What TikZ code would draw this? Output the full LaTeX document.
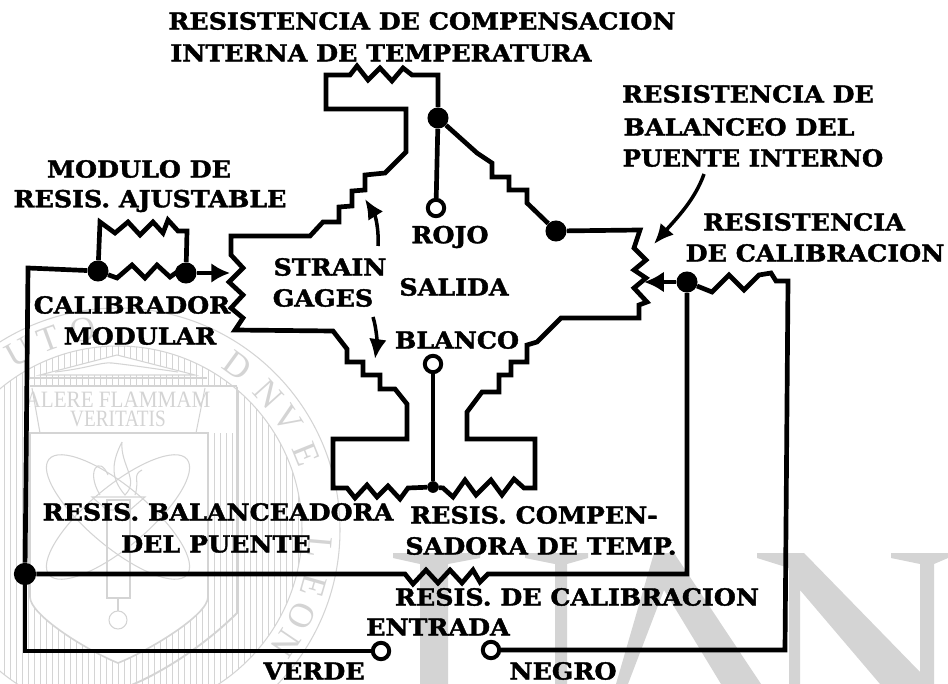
\documentclass[tikz,border=0pt]{standalone}
\usepackage{fontspec}
\setmainfont{DejaVu Serif}[BoldFeatures={FakeBold=1.6}]
\newfontfamily\sealfont{Liberation Serif}
\usetikzlibrary{arrows.meta,shapes.geometric}
\definecolor{markgray}{gray}{0.83}
\tikzset{
	wire/.style={line width=4pt, line join=miter, color=black},
	junction/.style={circle, fill=black, inner sep=0pt, minimum size=18pt},
	terminal/.style={circle, draw=black, fill=white, line width=3.4pt, inner sep=0pt, minimum size=14pt},
	lbl/.style={inner sep=0pt, xscale=1.08, font=\fontsize{20}{20}\selectfont\bfseries, color=black},
	pointer/.style={line width=3pt, -{Latex[length=17pt,width=15pt]}},
	sealline/.style={color=markgray, line width=0.9pt},
	bigmark/.style={fill=markgray, draw=none},
	sealtxt/.style={inner sep=0pt, color=markgray, font=\sealfont\fontsize{30}{30}\selectfont},
}
\begin{document}
\begin{tikzpicture}[x=0.03cm, y=-0.03cm]
		%%%%% START %%%%%
		\useasboundingbox (0, 0) rectangle (948, 684);
		\clip (0, 0) rectangle (948, 684);
		\fill[white] (0, 0) rectangle (948, 684);
		
		% big letters behind
		\fill[bigmark] (393, 553) -- (480, 553) -- (480, 558) -- (448, 564) -- (448, 684) -- (420, 684) -- (420, 564) -- (393, 558) -- cycle;
		\fill[bigmark] (525, 553) -- (588, 553) -- (588, 558) -- (567, 564) -- (567, 684) -- (555, 684) -- (555, 564) -- (525, 558) -- cycle;
		\fill[bigmark] (654, 553) -- (674, 553) -- (761, 684) -- (721, 684) -- (664, 590) -- (628, 684) -- (616, 684) -- cycle;
		\fill[bigmark] (757, 553) -- (804, 553) -- (920, 672) -- (920, 564) -- (891, 558) -- (891, 553) -- (948, 553) -- (948, 558) -- (934, 564) -- (934, 684) -- (880, 684) -- (800, 590) -- (800, 684) -- (789, 684) -- (789, 568) -- (757, 558) -- cycle;
		
		% seal behind
		\begin{scope}
			\clip (118, 530) circle (184);
			\foreach \hx in {4, 10, ..., 300} {
				\draw[markgray, line width=0.7pt] (\hx, 340) -- (\hx, 720);
			}
		\end{scope}
		\fill[white] (30, 387) rectangle (237, 433);
		\fill[white] (30, 433) -- (208, 433) -- (208, 597) .. controls (208, 615) and (150, 650) .. (118, 663) .. controls (86, 650) and (30, 615) .. (30, 597) -- cycle;
		\draw[sealline, line width=1.6pt] (237, 387) -- (237, 613) .. controls (200, 650) and (150, 680) .. (118, 690);
		\draw[sealline, line width=1.4pt] (30, 433) -- (208, 433) -- (208, 597) .. controls (208, 615) and (150, 650) .. (118, 663) .. controls (86, 650) and (30, 615) .. (30, 597) -- cycle;
		\draw[sealline] (118, 530) circle (222);
		\draw[sealline] (118, 530) circle (184);
		
		\fill[white] (40, 375) -- (117, 355) -- (195, 375) -- cycle;
		\draw[sealline] (40, 375) -- (117, 355) -- (195, 375) -- cycle;
		\draw[sealline] (55, 372) .. controls (90, 368) and (100, 362) .. (112, 363) .. controls (130, 365) and (150, 368) .. (178, 372);
		\draw[sealline, line width=1.4pt] (30, 378) -- (207, 378);
		\draw[sealline, line width=1.4pt] (30, 386) -- (237, 386);
		\draw[sealline] (32, 388) -- (40, 433);
		\draw[sealline] (205, 388) -- (196, 433);
		\node[sealtxt, font=\sealfont\fontsize{20}{20}\selectfont, xscale=0.9] (alere) at (118, 400) {ALERE FLAMMAM};
		\node[sealtxt, font=\sealfont\fontsize{20}{20}\selectfont, xscale=0.82] (veritatis) at (118, 419) {VERITATIS};
		
		\draw[sealline] (118, 517) ellipse [x radius=90, y radius=30, rotate=40];
		\draw[sealline] (118, 517) ellipse [x radius=90, y radius=30, rotate=-40];
		\draw[sealline] (107, 500) rectangle (130, 598);
		\draw[sealline] (118, 620) circle (9);
		\draw[sealline] (118, 598) -- (118, 611);
		\draw[sealline] (122, 442) .. controls (110, 465) and (112, 480) .. (125, 495) .. controls (140, 480) and (120, 465) .. (122, 442);
		\draw[sealline] (100, 495) .. controls (85, 470) and (100, 455) .. (108, 475);
		\draw[sealline] (135, 495) .. controls (140, 480) and (132, 475) .. (142, 470);
		\draw[sealline] (92, 497) -- (145, 497) -- (130, 510) -- (107, 510) -- cycle;
		
		\foreach \sealang/\sealch in {119/U, 110/T, 100/O, 54/D, 42/N, 33/V, 22/E, -5/L, -16/E, -25/O, -34/N} {
			\node[sealtxt, rotate=\sealang-90] at ({118+203*cos(\sealang)}, {530-203*sin(\sealang)}) {\sealch};
		}
		
		%%%%% circuit points %%%%%
		\node[junction] (topj) at (438, 118) {};
		\node[junction] (rightj) at (556, 231) {};
		\node[junction] (leftj) at (98, 271) {};
		\node[junction] (midj) at (186, 273) {};
		\node[junction] (calj) at (687, 282) {};
		\node[junction, minimum size=19pt] (outerj) at (25, 574) {};
		\node[junction, minimum size=10pt] (botj) at (433, 487) {};
		
		\node[terminal] (rojo) at (436, 208) {};
		\node[terminal] (blanco) at (433, 364) {};
		\node[terminal] (verde) at (381, 651) {};
		\node[terminal] (negro) at (491, 650) {};
		
		\coordinate (calibtip) at (230, 273);
		\coordinate (balancetip) at (644, 282);
		
		%%%%% bridge %%%%%
		\draw[wire] (topj) -- (438, 75) -- (412, 75) -- (403, 68) -- (392, 81) -- (380, 68) -- (368, 80) -- (357, 66) -- (350, 75) -- (326, 75) -- (326, 109) -- (406, 109) -- (406, 152) -- (385, 173) -- (365, 175) -- (365, 190) -- (352, 191) -- (352, 206) -- (339, 207) -- (339, 222) -- (323, 222) -- (310, 236) -- (231, 236) -- (231, 255) -- (243, 268) -- (229, 282) -- (243, 295) -- (231, 308) -- (243, 318) -- (235, 330) -- (333, 331) -- (347, 349) -- (347, 362) -- (363, 362) -- (363, 375) -- (380, 375) -- (380, 389) -- (395, 389) -- (407, 404) -- (407, 439) -- (333, 439) -- (333, 488) -- (347, 488) -- (355, 498) -- (367, 485) -- (377, 497) -- (388, 486) -- (400, 499) -- (408, 488) -- (botj);
		\draw[wire] (botj) -- (443, 488) -- (453, 497) -- (465, 480) -- (476, 495) -- (491, 480) -- (502, 495) -- (514, 479) -- (524, 488) -- (535, 488) -- (535, 439) -- (467, 439) -- (467, 412) -- (482, 392) -- (499, 392) -- (499, 375) -- (511, 375) -- (511, 362) -- (527, 362) -- (527, 345) -- (537, 342) -- (561, 318) -- (639, 318) -- (639, 305) -- (647, 302) -- (634, 288) -- (646, 278) -- (634, 270) -- (646, 260) -- (634, 248) -- (640, 230) -- (rightj);
		\draw[wire] (rightj) -- (527, 203) -- (527, 190) -- (509, 190) -- (509, 177) -- (492, 177) -- (492, 163) -- (477, 153) -- (topj);
		\draw[wire] (topj) -- (rojo);
		\draw[wire] (blanco) -- (botj);
		
		%%%%% left branch %%%%%
		\draw[wire] (leftj) -- (100, 222) -- (115, 233) -- (128, 222) -- (140, 235) -- (153, 222) -- (163, 233) -- (168, 220) -- (178, 231) -- (187, 231) -- (midj);
		\draw[wire] (leftj) -- (117, 278) -- (132, 265) -- (145, 278) -- (157, 265) -- (170, 277) -- (180, 270) -- (midj);
		\draw[wire, -{Latex[length=16pt,width=17pt]}] (midj) -- (calibtip);
		\draw[wire] (leftj) -- (28, 268) -- (outerj);
		\draw[wire] (outerj) -- (25, 651) -- (verde);
		
		%%%%% calibration %%%%%
		\draw[wire] (outerj) -- (405, 574) -- (413, 584) -- (426, 570) -- (438, 583) -- (450, 570) -- (462, 583) -- (473, 570) -- (480, 582) -- (488, 574) -- (687, 574) -- (calj);
		\draw[wire, -{Latex[length=17pt,width=18pt]}] (calj) -- (balancetip);
		\draw[wire] (calj) -- (712, 292) -- (729, 275) -- (744, 290) -- (759, 275) -- (771, 273) -- (776, 281) -- (788, 281) -- (785, 650) -- (negro);
		
		%%%%% pointers %%%%%
		\coordinate (upgage) at (378, 246);
		\coordinate (upgagetip) at (365, 199);
		\coordinate (lowgage) at (373, 317);
		\coordinate (lowgagetip) at (375, 359);
		\coordinate (balancefrom) at (704, 174);
		\coordinate (balanceto) at (654, 244);
		\draw[pointer] (upgage) .. controls (379, 228) and (375, 215) .. (upgagetip);
		\draw[pointer] (lowgage) .. controls (377, 330) and (377, 345) .. (lowgagetip);
		\draw[pointer] (balancefrom) .. controls (695, 200) and (675, 220) .. (balanceto);
		
		%%%%% labels %%%%%
		\node[lbl] (ltop) at (422, 21) {RESISTENCIA DE COMPENSACION};
		\node[lbl] (ltopb) at (381, 53) {INTERNA DE TEMPERATURA};
		\node[lbl] (lmod) at (139, 169) {MODULO DE};
		\node[lbl] (lajus) at (150, 201) {RESIS. AJUSTABLE};
		\node[lbl] (lcal) at (132, 305) {CALIBRADOR};
		\node[lbl] (lmodu) at (140, 336) {MODULAR};
		\node[lbl] (lstrain) at (330, 267) {STRAIN};
		\node[lbl] (lgages) at (323, 298) {GAGES};
		\node[lbl] (lrojo) at (450, 237) {ROJO};
		\node[lbl] (lsalida) at (454, 287) {SALIDA};
		\node[lbl] (lblanco) at (457, 340) {BLANCO};
		\node[lbl] (lres) at (748, 94) {RESISTENCIA DE};
		\node[lbl] (lbal) at (739, 127) {BALANCEO DEL};
		\node[lbl, xscale=0.966] (lpue) at (753, 158) {PUENTE INTERNO};
		\node[lbl] (lresc) at (804, 222) {RESISTENCIA};
		\node[lbl] (lcalib) at (815, 253) {DE CALIBRACION};
		\node[lbl] (lbala) at (218, 512) {RESIS. BALANCEADORA};
		\node[lbl] (ldel) at (216, 544) {DEL PUENTE};
		\node[lbl] (lcomp) at (534, 515) {RESIS. COMPEN-};
		\node[lbl] (lsado) at (541, 546) {SADORA DE TEMP.};
		\node[lbl] (lrc) at (577, 597) {RESIS. DE CALIBRACION};
		\node[lbl] (lent) at (438, 627) {ENTRADA};
		\node[lbl] (lverde) at (314, 671) {VERDE};
		\node[lbl] (lnegro) at (563, 671) {NEGRO};
		%%%%% END %%%%%
\end{tikzpicture}
\end{document}
